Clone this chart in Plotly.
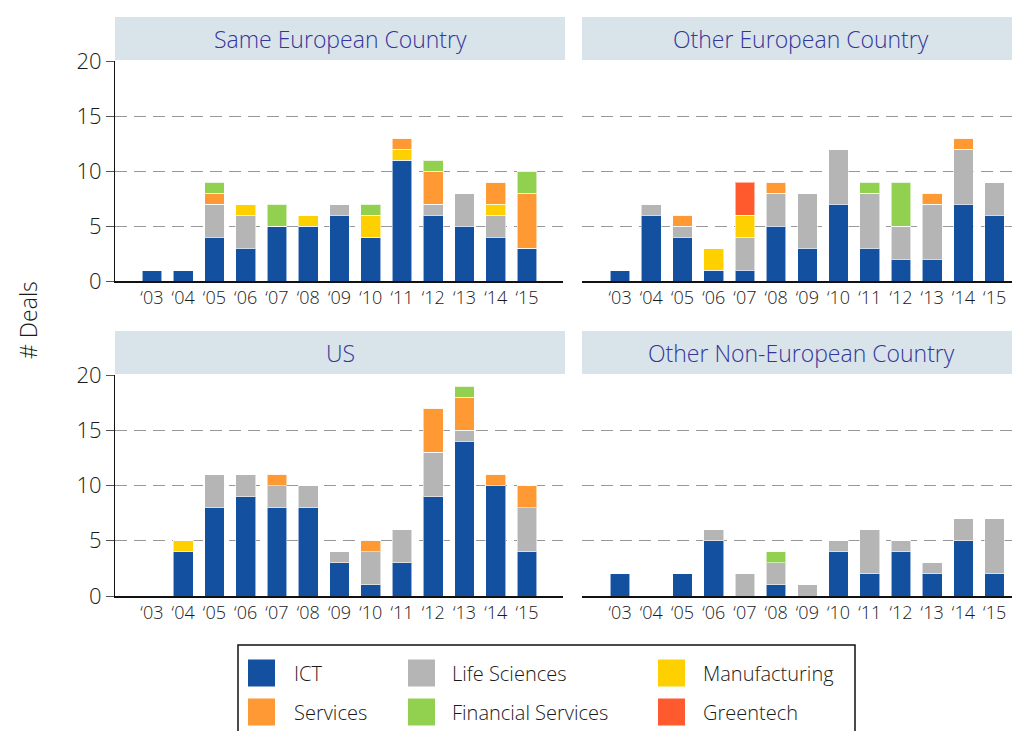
import plotly.graph_objects as go

W, H = 1020, 731

years = ["‘03", "‘04", "‘05", "‘06", "‘07", "‘08", "‘09", "‘10", "‘11", "‘12", "‘13", "‘14", "‘15"]

series_names = ["ICT", "Life Sciences", "Manufacturing", "Services", "Financial Services", "Greentech"]
series_colors = ["#1351a0", "#b5b5b5", "#ffd000", "#ff9933", "#92d050", "#ff5a2e"]

panel_titles = ["Same European Country", "Other European Country", "US", "Other Non-European Country"]

# Same European Country
same_ict = [1, 1, 4, 3, 5, 5, 6, 4, 11, 6, 5, 4, 3]
same_ls = [0, 0, 3, 3, 0, 0, 1, 0, 0, 1, 3, 2, 0]
same_man = [0, 0, 0, 1, 0, 1, 0, 2, 1, 0, 0, 1, 0]
same_srv = [0, 0, 1, 0, 0, 0, 0, 0, 1, 3, 0, 2, 5]
same_fin = [0, 0, 1, 0, 2, 0, 0, 1, 0, 1, 0, 0, 2]
same_grn = [0, 0, 0, 0, 0, 0, 0, 0, 0, 0, 0, 0, 0]

# Other European Country
oeu_ict = [1, 6, 4, 1, 1, 5, 3, 7, 3, 2, 2, 7, 6]
oeu_ls = [0, 1, 1, 0, 3, 3, 5, 5, 5, 3, 5, 5, 3]
oeu_man = [0, 0, 0, 2, 2, 0, 0, 0, 0, 0, 0, 0, 0]
oeu_srv = [0, 0, 1, 0, 0, 1, 0, 0, 0, 0, 1, 1, 0]
oeu_fin = [0, 0, 0, 0, 0, 0, 0, 0, 1, 4, 0, 0, 0]
oeu_grn = [0, 0, 0, 0, 3, 0, 0, 0, 0, 0, 0, 0, 0]

# US
us_ict = [0, 4, 8, 9, 8, 8, 3, 1, 3, 9, 14, 10, 4]
us_ls = [0, 0, 3, 2, 2, 2, 1, 3, 3, 4, 1, 0, 4]
us_man = [0, 1, 0, 0, 0, 0, 0, 0, 0, 0, 0, 0, 0]
us_srv = [0, 0, 0, 0, 1, 0, 0, 1, 0, 4, 3, 1, 2]
us_fin = [0, 0, 0, 0, 0, 0, 0, 0, 0, 0, 1, 0, 0]
us_grn = [0, 0, 0, 0, 0, 0, 0, 0, 0, 0, 0, 0, 0]

# Other Non-European Country
one_ict = [2, 0, 2, 5, 0, 1, 0, 4, 2, 4, 2, 5, 2]
one_ls = [0, 0, 0, 1, 2, 2, 1, 1, 4, 1, 1, 2, 5]
one_man = [0, 0, 0, 0, 0, 0, 0, 0, 0, 0, 0, 0, 0]
one_srv = [0, 0, 0, 0, 0, 0, 0, 0, 0, 0, 0, 0, 0]
one_fin = [0, 0, 0, 0, 0, 1, 0, 0, 0, 0, 0, 0, 0]
one_grn = [0, 0, 0, 0, 0, 0, 0, 0, 0, 0, 0, 0, 0]

panels = [
    [same_ict, same_ls, same_man, same_srv, same_fin, same_grn],
    [oeu_ict, oeu_ls, oeu_man, oeu_srv, oeu_fin, oeu_grn],
    [us_ict, us_ls, us_man, us_srv, us_fin, us_grn],
    [one_ict, one_ls, one_man, one_srv, one_fin, one_grn],
]

yticks = [0, 5, 10, 15, 20]

FONT = "Open Sans"
WT = 300
TXT = "#1a1a1a"
OFF = 8  # page body margin


def px(x):
    return (x - OFF) / W


def py(y):
    return 1 - (y - OFF) / H


# panel geometry in target pixels: (x0, x1, ytop, ybottom)
geo = [
    (115, 563, 61, 281),
    (582, 1028, 61, 281),
    (115, 563, 375, 596),
    (582, 1028, 375, 596),
]
xranges = [[-1.18, 13.15], [-1.22, 13.07], [-1.18, 13.15], [-1.22, 13.07]]

fig = go.Figure()

for i, data in enumerate(panels):
    n = "" if i == 0 else str(i + 1)
    for s, vals in enumerate(data):
        fig.add_trace(go.Bar(
            x=years, y=vals, name=series_names[s],
            marker=dict(color=series_colors[s], line=dict(color="rgba(255,255,255,0.55)", width=1)),
            width=0.63, showlegend=False,
            xaxis="x" + n, yaxis="y" + n,
        ))

layout = dict(
    width=W, height=H, margin=dict(l=0, r=0, t=0, b=0, pad=0, autoexpand=False),
    paper_bgcolor="white", plot_bgcolor="white",
    barmode="stack", font=dict(family=FONT, color=TXT, weight=WT),
    showlegend=False,
)

shapes = []
annotations = []

for i, (x0, x1, yt, yb) in enumerate(geo):
    n = "" if i == 0 else str(i + 1)
    left = i % 2 == 0
    layout["xaxis" + n] = dict(
        domain=[px(x0), min(px(x1), 1.0)], anchor="y" + n, type="category",
        range=xranges[i], showline=True, linecolor="#111111", linewidth=1.5,
        ticks="", showgrid=False,
        tickfont=dict(size=18, color=TXT, family=FONT, weight=WT),
        categoryorder="array", categoryarray=years, fixedrange=True, automargin=False,
    )
    layout["yaxis" + n] = dict(
        domain=[py(yb), py(yt)], anchor="x" + n, range=[0, 20],
        tickvals=yticks, showticklabels=left,
        showline=left, linecolor="#111111", linewidth=1.2,
        ticks="outside" if left else "", ticklen=8, tickcolor="#555555",
        tickfont=dict(size=22, color=TXT, family=FONT, weight=WT),
        showgrid=True, gridcolor="#999999", gridwidth=1.3, griddash="12px,7px",
        zeroline=False, fixedrange=True, automargin=False,
    )
    # title strip
    sx1 = 565 if left else 1030
    sy0 = yt - 44
    shapes.append(dict(type="rect", xref="paper", yref="paper",
                       x0=px(x0), x1=min(px(sx1), 1.0), y0=py(yt - 1), y1=py(sy0),
                       fillcolor="#d8e4ea", line=dict(width=0), layer="above"))
    tx1 = 565 if left else 1020
    annotations.append(dict(text=panel_titles[i], xref="paper", yref="paper",
                            x=px((x0 + tx1) / 2), y=py((sy0 + yt) / 2),
                            xanchor="center", yanchor="middle", showarrow=False,
                            font=dict(size=23, color="#35359a", family=FONT, weight=WT)))

# y-axis title
annotations.append(dict(text="# Deals", xref="paper", yref="paper", x=px(28), y=py(320),
                        textangle=-90, showarrow=False, xanchor="center", yanchor="middle",
                        font=dict(size=23, color=TXT, family=FONT, weight=WT)))

# legend box
shapes.append(dict(type="rect", xref="paper", yref="paper", x0=px(238), x1=px(855),
                   y0=py(745), y1=py(645), line=dict(color="#111111", width=1.5),
                   fillcolor="white"))
col_sw = [248, 408, 658]
col_tx = [292, 450, 701]
row_y = [673, 712]
for k, name in enumerate(series_names):
    r, c = divmod(k, 3)
    cy = row_y[r]
    shapes.append(dict(type="rect", xref="paper", yref="paper",
                       x0=px(col_sw[c]), x1=px(col_sw[c] + 27), y0=py(cy + 13.5), y1=py(cy - 13.5),
                       fillcolor=series_colors[k], line=dict(width=0)))
    annotations.append(dict(text=name, xref="paper", yref="paper", x=px(col_tx[c]), y=py(cy),
                            xanchor="left", yanchor="middle", showarrow=False,
                            font=dict(size=20, color=TXT, family=FONT, weight=WT)))

layout["shapes"] = shapes
layout["annotations"] = annotations
fig.update_layout(**layout)

fig.write_html("out.html")
